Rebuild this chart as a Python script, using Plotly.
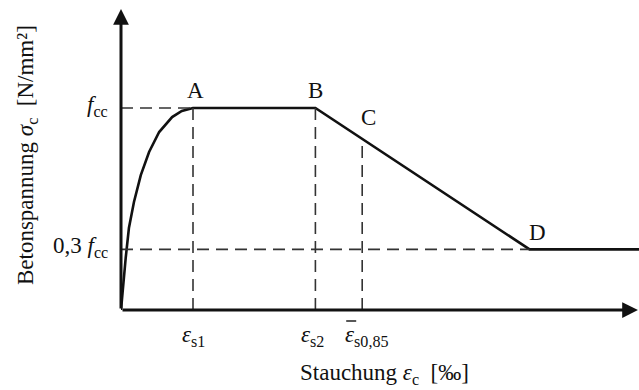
import plotly.graph_objects as go

# Characteristic strains (arbitrary ‰ scale) and stress levels (relative to f_cc)
eps_s1 = 2.0
eps_s2 = 5.4
eps_085 = 6.7
eps_D = 11.35
eps_end = 14.4
f_cc = 1.0
f_res = 0.3 * f_cc

# Ascending branch O -> A
rise_x = [0.0, 0.083, 0.13, 0.22, 0.36, 0.55, 0.78, 1.06, 1.42, 1.69, 2.0]
rise_y = [0.0, 0.173, 0.257, 0.406, 0.535, 0.668, 0.782, 0.881, 0.955, 0.985, 1.0]

# Descending branch B -> D, evaluated at C
y_C = f_cc - (f_cc - f_res) * (eps_085 - eps_s2) / (eps_D - eps_s2)

curve_x = rise_x + [eps_s2, eps_D, eps_end]
curve_y = rise_y + [f_cc, f_res, f_res]

X_MAX = 14.389
Y_MAX = 1.495

INK = "#111111"
DASH_COL = "#333333"
FONT = "Liberation Serif"

fig = go.Figure()

fig.add_trace(go.Scatter(x=curve_x, y=curve_y, mode="lines",
                         line=dict(color=INK, width=2.6), hoverinfo="skip"))

dash = dict(color=DASH_COL, width=1.6, dash="12px,7px")
guides = [
    ([0, eps_s1], [f_cc, f_cc]),
    ([0, eps_D], [f_res, f_res]),
    ([eps_s1, eps_s1], [0, f_cc]),
    ([eps_s2, eps_s2], [0, f_cc]),
    ([eps_085, eps_085], [0, y_C]),
]
for gx, gy in guides:
    fig.add_trace(go.Scatter(x=gx, y=gy, mode="lines", line=dash, hoverinfo="skip"))

annotations = []

# Axis arrows
annotations.append(dict(x=14.36, y=0, ax=0, ay=0, xref="x", yref="y", axref="x", ayref="y",
                        showarrow=True, arrowhead=2, arrowsize=1.05, arrowwidth=3,
                        arrowcolor=INK, text=""))
annotations.append(dict(x=0, y=1.49, ax=0, ay=0, xref="x", yref="y", axref="x", ayref="y",
                        showarrow=True, arrowhead=2, arrowsize=1.05, arrowwidth=3,
                        arrowcolor=INK, text=""))

# Point labels
pt_font = dict(family=FONT, size=23, color=INK)
for txt, px, py, dx, dy in [("A", eps_s1, f_cc, 2, 17), ("B", eps_s2, f_cc, 0, 17),
                            ("C", eps_085, y_C, 6, 21), ("D", eps_D, f_res, 8, 17)]:
    annotations.append(dict(x=px, y=py, xref="x", yref="y", text=txt, showarrow=False,
                            xshift=dx, yshift=dy, font=pt_font))

# Stress tick labels
tk_font = dict(family=FONT, size=23, color=INK)
for txt, py in [("<i>f</i><sub>cc</sub>", f_cc), ("0,3 <i>f</i><sub>cc</sub>", f_res)]:
    annotations.append(dict(x=0, y=py, xref="x", yref="y", text=txt, showarrow=False,
                            xanchor="right", xshift=-11, yshift=2, font=tk_font))

# Strain tick labels
for txt, px, anchor, dx in [("<i>ε</i><sub>s1</sub>", eps_s1, "center", 0),
                            ("<i>ε</i><sub>s2</sub>", eps_s2, "center", -3),
                            ("<i>ε</i><sub>s0,85</sub>", eps_085, "left", -19)]:
    annotations.append(dict(x=px, y=0, xref="x", yref="y", text=txt, showarrow=False,
                            xanchor=anchor, xshift=dx, yshift=-26, font=tk_font))

# Bar over the mean strain symbol
shapes = [dict(type="line", xref="paper", yref="paper", xsizemode="pixel", ysizemode="pixel",
               xanchor=eps_085 / X_MAX, yanchor=0, x0=-16, x1=-6, y0=-11, y1=-11,
               line=dict(color=INK, width=1.4))]

# Axis titles
ttl_font = dict(family=FONT, size=23, color=INK)
annotations.append(dict(x=-0.1815, y=0.513, xref="paper", yref="paper", textangle=-90,
                        xanchor="center", yanchor="middle",
                        text="Betonspannung <i>σ</i><sub>c</sub>  [N/mm²]",
                        showarrow=False, font=ttl_font))
annotations.append(dict(x=0.508, y=-0.212, xref="paper", yref="paper",
                        xanchor="center", yanchor="middle",
                        text="Stauchung <i>ε</i><sub>c</sub>  [‰]",
                        showarrow=False, font=ttl_font))

fig.update_layout(
    width=639, height=390,
    margin=dict(l=121, r=0, t=8, b=80),
    paper_bgcolor="white", plot_bgcolor="white",
    showlegend=False,
    annotations=annotations,
    shapes=shapes,
    xaxis=dict(range=[0, X_MAX], visible=False, fixedrange=True),
    yaxis=dict(range=[0, Y_MAX], visible=False, fixedrange=True),
)

fig.write_html("out.html", config={"displayModeBar": False})
